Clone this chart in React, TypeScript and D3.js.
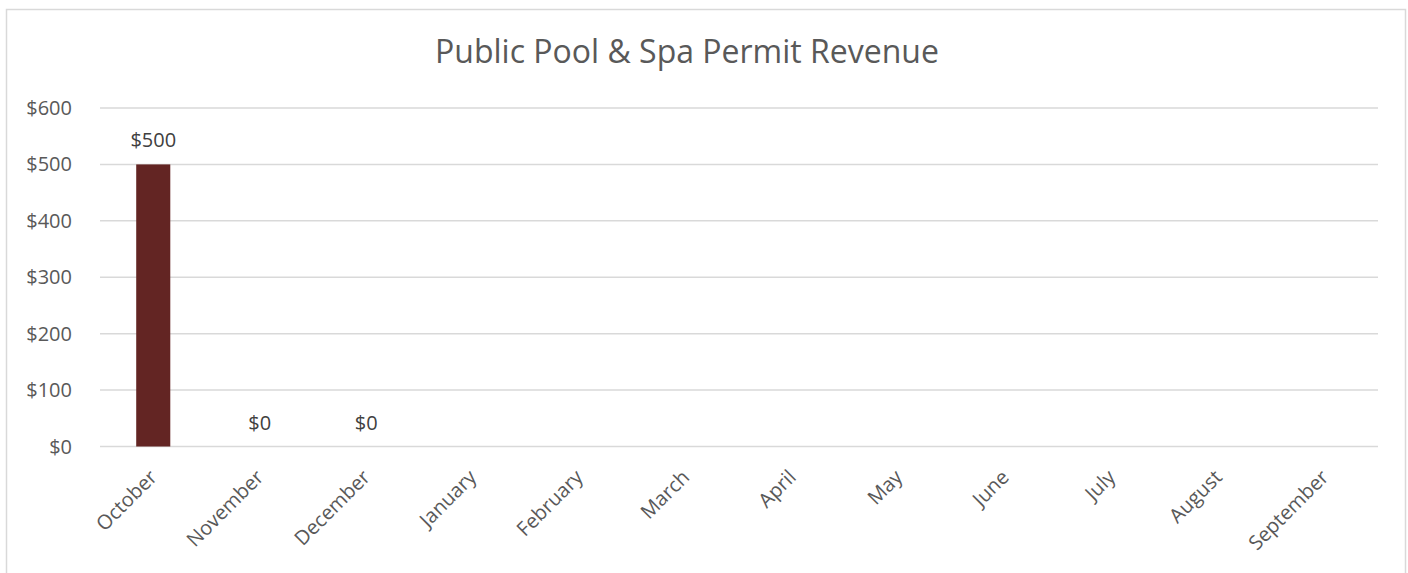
import React from "react";
import * as d3 from "d3";

const months = ["October","November","December","January","February","March","April","May","June","July","August","September"];
const revenue: (number | null)[] = [500, 0, 0, null, null, null, null, null, null, null, null, null];
const yTicks = [0, 100, 200, 300, 400, 500, 600];
const title = "Public Pool & Spa Permit Revenue";

export default function App() {
  const W = 1408, H = 573;
  const x = d3.scaleBand<string>().domain(months).range([100, 1378]).paddingInner(0.68).paddingOuter(0.34);
  const y = d3.scaleLinear().domain([0, 600]).range([446.5, 108]);
  const fmt = (v: number) => "$" + d3.format(",")(v);
  const font = "'Open Sans', sans-serif";
  return (
    <svg width={W} height={H} style={{ position: "absolute", left: 0, top: 0, background: "#fff" }}>
      <rect x={6.5} y={9.5} width={1399} height={600} fill="#fff" stroke="#d9d9d9" strokeWidth={1.5} />
      <text x={687} y={63} textAnchor="middle" fontFamily={font} fontSize={32} fill="#595959">{title}</text>
      {yTicks.map(t => (
        <g key={t}>
          <line x1={100} x2={1378} y1={y(t)} y2={y(t)} stroke="#d9d9d9" strokeWidth={1.5} />
          <text x={72} y={y(t)} dy="0.35em" textAnchor="end" fontFamily={font} fontSize={20} fill="#595959">{fmt(t)}</text>
        </g>
      ))}
      {months.map((m, i) => {
        const v = revenue[i];
        const bx = x(m)!;
        const cx = bx + x.bandwidth() / 2;
        return (
          <g key={m}>
            {v != null && v > 0 && (
              <rect x={bx} y={y(v)} width={x.bandwidth()} height={y(0) - y(v)} fill="#632523" />
            )}
            {v != null && (
              <text x={cx} y={y(v) - 17} textAnchor="middle" fontFamily={font} fontSize={20} fill="#404040">{fmt(v)}</text>
            )}
            <text transform={`translate(${cx},${y(0) + 27}) rotate(-45)`} textAnchor="end" dy="0.35em" fontFamily={font} fontSize={20} fill="#595959">{m}</text>
          </g>
        );
      })}
    </svg>
  );
}
